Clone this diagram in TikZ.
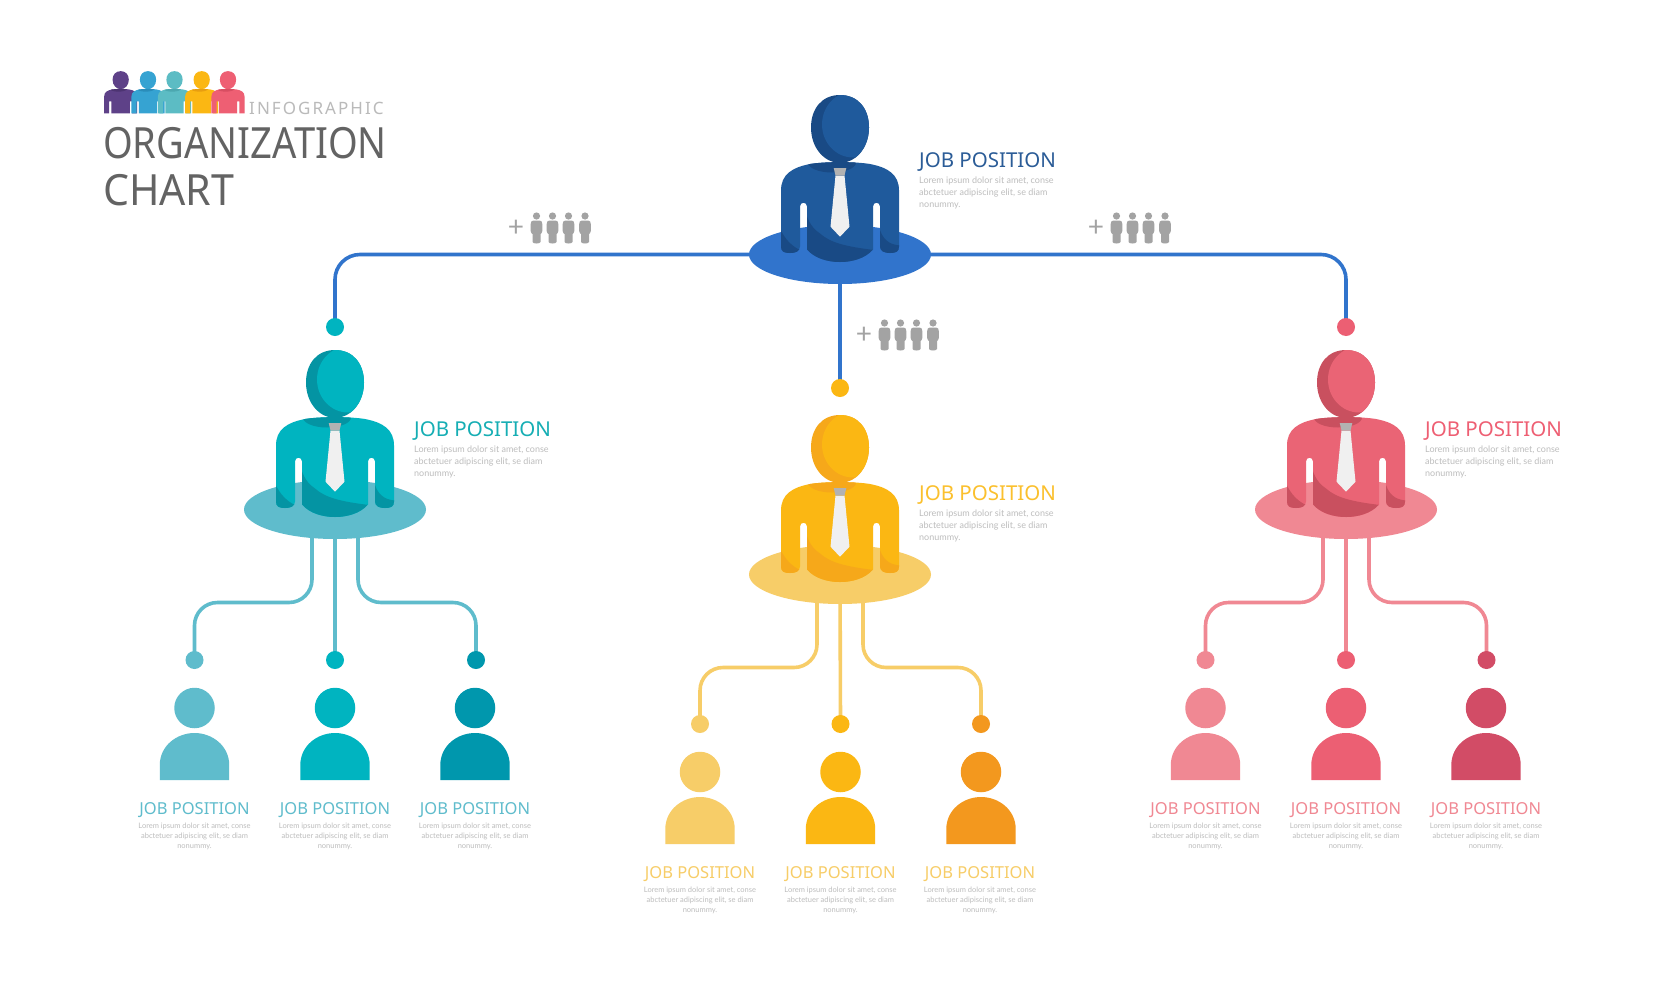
\documentclass[tikz,border=0pt]{standalone}
\usepackage{fontspec}
\setmainfont{Noto Sans}
\newfontfamily\loremfont{Lato}
\usetikzlibrary{shapes.geometric,backgrounds}
\definecolor{blM}{HTML}{1F5A9C}\definecolor{blD}{HTML}{194A85}\definecolor{blL}{HTML}{3174CC}\definecolor{blT}{HTML}{2B5C97}
\definecolor{teL}{HTML}{5FBCCC}\definecolor{teM}{HTML}{00B4C0}\definecolor{teD}{HTML}{0097AD}\definecolor{teT}{HTML}{16AEB4}
\definecolor{yeL}{HTML}{F7CD68}\definecolor{yeM}{HTML}{FBB713}\definecolor{yeD}{HTML}{F3981E}\definecolor{yeT}{HTML}{FBC02D}
\definecolor{reL}{HTML}{F08893}\definecolor{reM}{HTML}{EC5F73}\definecolor{reD}{HTML}{D24C66}\definecolor{reT}{HTML}{EE5F73}
\definecolor{reB}{HTML}{EA6475}\definecolor{reS}{HTML}{C9505F}
\definecolor{tealS}{HTML}{0494A3}\definecolor{yeS}{HTML}{F6A81A}
\definecolor{loremC}{HTML}{BDBDBD}\definecolor{grayP}{HTML}{A3A3A3}\definecolor{titleC}{HTML}{636363}
\definecolor{pu}{HTML}{5E4188}\definecolor{puD}{HTML}{4D3472}\definecolor{sk}{HTML}{36A3D2}\definecolor{skD}{HTML}{2A8DBA}
\definecolor{aq}{HTML}{5CBCC4}\definecolor{aqD}{HTML}{4CA8B0}\definecolor{ye2}{HTML}{E89E10}\definecolor{rd}{HTML}{EE5F73}\definecolor{rdD}{HTML}{D84E62}
\newcommand\headpath{(0,-159.5) .. controls (18,-159.5) and (29,-146) .. (29,-127) .. controls (29,-106) and (15,-91.5) .. (0,-91.5) .. controls (-15,-91.5) and (-29,-106) .. (-29,-127) .. controls (-29,-146) and (-18,-159.5) .. cycle}
\newcommand\bodypath{(-59,-64) .. controls (-59,-80) and (-48,-87) .. (-30,-90.5) .. controls (-15,-93) and (15,-93) .. (30,-90.5) .. controls (48,-87) and (59,-80) .. (59,-64) -- (59,-8) .. controls (59,-3) and (56,-1.5) .. (50,-1.5) .. controls (45,-1.5) and (40,-3) .. (40,-8) -- (40,-48) .. controls (40,-53) and (33,-53) .. (33,-48) -- (33,-5) .. controls (25,4) and (12,7.5) .. (0,7.5) .. controls (-12,7.5) and (-25,4) .. (-33,-5) -- (-33,-48) .. controls (-33,-53) and (-40,-53) .. (-40,-48) -- (-40,-8) .. controls (-40,-3) and (-45,-1.5) .. (-50,-1.5) .. controls (-56,-1.5) and (-59,-3) .. (-59,-8) -- cycle}
\newcommand\minibody{(-59,-64) .. controls (-59,-80) and (-48,-87) .. (-30,-90.5) .. controls (-15,-93) and (15,-93) .. (30,-90.5) .. controls (48,-87) and (59,-80) .. (59,-64) -- (59,0) -- (41,0) -- (41,-45) -- (33,-45) -- (33,0) -- (-33,0) -- (-33,-45) -- (-41,-45) -- (-41,0) -- (-59,0) -- cycle}
% #1 main, #2 dark
\newcommand\figshape[2]{%
  \fill[#2] \headpath;
  \begin{scope}\clip \headpath; \fill[#1] (13,-130) ellipse [x radius=31,y radius=33]; \end{scope}
  \fill[#1] \bodypath;
  \begin{scope}\clip \bodypath;
    \fill[#2] (-8,-92) ellipse [x radius=24,y radius=10];
    \fill[#2] (-34,-41) .. controls (-30,-28) and (-24,-24) .. (-20,-21) .. controls (-10,-12) and (5,-8) .. (34,-4.5) -- (34,12) -- (-34,12) -- cycle;
    \fill[#2] (-60,-26) .. controls (-55,-15) and (-48,-8) .. (-39,-4) -- (-39,5) -- (-60,5) -- cycle;
    \fill[#2] (39,-28) .. controls (42,-16) and (48,-10) .. (60,-9) -- (60,5) -- (39,5) -- cycle;
  \end{scope}}
% #1 name, #2 x, #3 y of disc, #4 main, #5 dark, #6 disc
\newcommand\bigfig[6]{%
  \node[discnode,fill=#6] (#1) at (#2,#3) {};
  \begin{scope}[shift={(#2,#3)}]
    \figshape{#4}{#5}
    \fill[tiecol] (-4.5,-79) -- (4.5,-79) -- (9.5,-27.8) -- (0,-17.8) -- (-9.5,-27.8) -- cycle;
    \fill[knotcol] (-6.3,-86.5) -- (6.3,-86.5) -- (4.5,-79) -- (-4.5,-79) -- cycle;
  \end{scope}}
% #1 name #2 x #3 head y #4 colour
\newcommand\smallfig[4]{%
  \node[circle,fill=#4,minimum size=40.5pt,inner sep=0pt] (#1) at (#2,#3) {};
  \begin{scope}[shift={(#2,#3)}]
    \fill[#4] (-34.7,72) -- (-34.7,57) .. controls (-34.7,38) and (-18,25) .. (0,25) .. controls (18,25) and (34.7,38) .. (34.7,57) -- (34.7,72) -- cycle;
  \end{scope}}
% #1 name #2 x #3 y #4 colour
\newcommand\smalltext[4]{%
  \node[jobsmall,text=#4] (#1h) at (#2,#3) {JOB POSITION};
  \node[loremsmall] (#1l) at (#2,#3+26.5) {Lorem ipsum dolor sit amet, conse\\abctetuer adipiscing elit, se diam\\nonummy.};}
% #1 name #2 x #3 y #4 colour
\newcommand\bigtext[4]{%
  \node[jobbig,text=#4] (#1h) at (#2,#3) {JOB POSITION};
  \node[loremBig] (#1l) at (#2,#3+31) {Lorem ipsum dolor sit amet, conse\\abctetuer adipiscing elit, se diam\\nonummy.};}
\newcommand\grayone[2]{%
  \begin{scope}[shift={(#1,#2)}]
    \fill[grayP] (0,-12) circle (3.6);
    \fill[grayP] (-3,-7.5) -- (3,-7.5) .. controls (5,-7.5) and (5.8,-6) .. (5.8,-4) -- (5.8,3) .. controls (5.8,5) and (4.5,5.5) .. (4,6) -- (4,14) .. controls (4,16) and (-4,16) .. (-4,14) -- (-4,6) .. controls (-4.5,5.5) and (-5.8,5) .. (-5.8,3) -- (-5.8,-4) .. controls (-5.8,-6) and (-5,-7.5) .. (-3,-7.5) -- cycle;
  \end{scope}}
\newcommand\grayteam[3]{%
  \node[font=\loremfont\fontsize{28pt}{28pt}\selectfont,text=grayP,inner sep=0pt] (#1) at (#2,#3) {+};
  \grayone{#2+20.5}{#3}\grayone{#2+36.5}{#3}\grayone{#2+52.5}{#3}\grayone{#2+69}{#3}}
\newcommand\minifig[3]{%
  \begin{scope}[shift={(#1,113.4)},xscale=.28,yscale=.265]
    \fill[#2] \headpath; \fill[#2] \minibody;
    \begin{scope}\clip \minibody; \fill[#3] (-8,-92) ellipse [x radius=30,y radius=10]; \end{scope}
  \end{scope}}
\tikzset{
  discnode/.style={ellipse,minimum width=182pt,minimum height=59pt,inner sep=0pt},
  dotnode/.style={circle,minimum size=18pt,inner sep=0pt},
  tiecol/.style={color=black!6},
  knotcol/.style={color=black!30},
  conn/.style={line width=3.6pt},
  jobbig/.style={anchor=west,inner sep=0pt,font=\fontsize{20.5pt}{20.5pt}\selectfont},
  jobsmall/.style={inner sep=0pt,font=\fontsize{16.5pt}{16.5pt}\selectfont},
  loremBig/.style={anchor=west,inner sep=0pt,align=left,text=loremC,font=\loremfont\fontsize{9pt}{11.6pt}\selectfont},
  loremsmall/.style={inner sep=0pt,align=center,text=loremC,font=\loremfont\fontsize{7.5pt}{10.2pt}\selectfont},
  titlenode/.style={anchor=west,inner sep=0pt,text=titleC,font=\fontsize{43pt}{43pt}\selectfont,transform shape},
}
\begin{document}
\begin{tikzpicture}[x=1pt,y=-1pt]
\useasboundingbox (0,0) rectangle (1680,980);
% logo
\minifig{120.7}{pu}{puD}
\minifig{148}{sk}{skD}
\minifig{174.5}{aq}{aqD}
\minifig{201.7}{yeM}{ye2}
\minifig{228}{rd}{rdD}
\node[anchor=west,inner sep=0pt,text=black!27,font=\fontsize{17pt}{17pt}\selectfont] (infotext) at (249,108) {\addfontfeature{LetterSpace=12}INFOGRAPHIC};
\node[titlenode,xscale=.886] (orgtext) at (103,143.5) {ORGANIZATION};
\node[titlenode,xscale=.957] (charttext) at (103,190.5) {CHART};
% main figures
\bigfig{topd}{840}{254.5}{blM}{blD}{blL}
\bigfig{ted}{335}{509.5}{teM}{tealS}{teL}
\bigfig{yed}{840}{574.5}{yeM}{yeS}{yeL}
\bigfig{red}{1346}{509.5}{reB}{reS}{reL}
% dots
\node[dotnode,fill=teM] (topTe) at (335,327) {};
\node[dotnode,fill=yeM] (topYe) at (840,388) {};
\node[dotnode,fill=reM] (topRe) at (1346,327) {};
\foreach \n/\x/\y/\c in {te1/194.5/660/teL,te2/335/660/teM,te3/476/660/teD,ye1/700/724/yeL,ye2/840.5/724/yeM,ye3/981/724/yeD,re1/1205.5/660/reL,re2/1346/660/reM,re3/1486.5/660/reD}
  \node[dotnode,fill=\c] (\n) at (\x,\y) {};
% connectors
\begin{scope}[on background layer]
  \fill[white] (0,0) rectangle (1680,980);
  \draw[conn,blL,rounded corners=25pt] (topd.center) -- (topd.center -| topTe) -- (topTe.center);
  \draw[conn,blL,rounded corners=25pt] (topd.center) -- (topd.center -| topRe) -- (topRe.center);
  \draw[conn,blL] (topd.center) -- (topYe.center);
  \foreach \d/\a/\b/\cc/\col in {ted/te1/te2/te3/teL,yed/ye1/ye2/ye3/yeL,red/re1/re2/re3/reL}{
    \coordinate (m) at ([yshift=-93pt]\d.center);
    \draw[conn,\col,rounded corners=23pt] ([xshift=-23pt]\d.center) -- ([xshift=-23pt]\d.center |- m) -- (\a.center |- m) -- (\a.center);
    \draw[conn,\col] (\d.center) -- (\b.center);
    \draw[conn,\col,rounded corners=23pt] ([xshift=23pt]\d.center) -- ([xshift=23pt]\d.center |- m) -- (\cc.center |- m) -- (\cc.center);
  }
\end{scope}
% small people
\smallfig{pte1}{194.5}{708}{teL}\smallfig{pte2}{335}{708}{teM}\smallfig{pte3}{475}{708}{teD}
\smallfig{pye1}{700}{772}{yeL}\smallfig{pye2}{840.5}{772}{yeM}\smallfig{pye3}{981}{772}{yeD}
\smallfig{pre1}{1205.5}{708}{reL}\smallfig{pre2}{1346}{708}{reM}\smallfig{pre3}{1486}{708}{reD}
% texts
\bigtext{ttop}{919}{162}{blT}
\bigtext{tte}{414}{431}{teT}
\bigtext{tye}{919}{495}{yeT}
\bigtext{tre}{1425}{431}{reT}
\smalltext{a1}{194.5}{810}{teL}\smalltext{a2}{335}{810}{teL}\smalltext{a3}{475}{810}{teL}
\smalltext{b1}{700}{874}{yeL}\smalltext{b2}{840.5}{874}{yeL}\smalltext{b3}{980}{874}{yeL}
\smalltext{c1}{1205.5}{810}{reL}\smalltext{c2}{1346}{810}{reL}\smalltext{c3}{1486}{810}{reL}
% grey teams
\grayteam{plusA}{516}{228}
\grayteam{plusB}{1096}{228}
\grayteam{plusC}{864}{335}
\end{tikzpicture}
\end{document}
